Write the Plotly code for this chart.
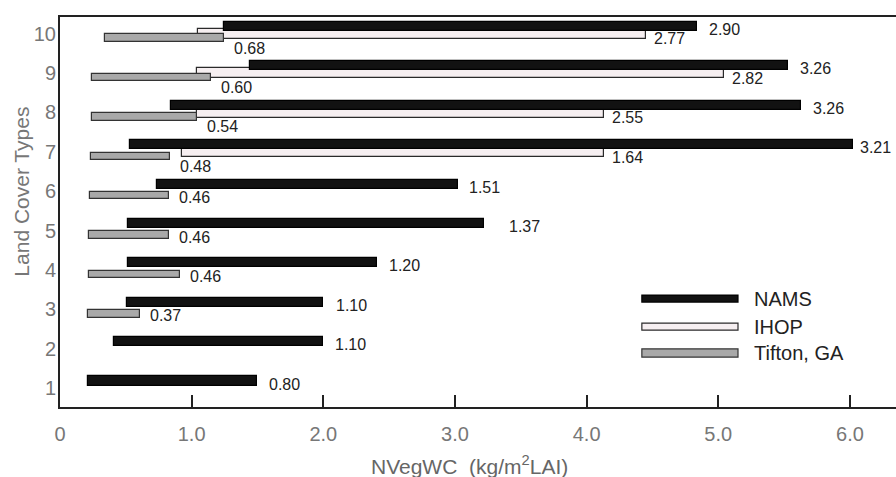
import plotly.graph_objects as go

# Land cover type index on the vertical axis
categories = [1, 2, 3, 4, 5, 6, 7, 8, 9, 10]

# NAMS: range of NVegWC per land cover type (start, end) and the printed mean
nams_start = [0.21, 0.41, 0.51, 0.52, 0.52, 0.735, 0.53, 0.84, 1.44, 1.245]
nams_end = [1.50, 2.00, 2.00, 2.41, 3.22, 3.02, 6.02, 5.63, 5.53, 4.84]
nams_label = [0.80, 1.10, 1.10, 1.20, 1.37, 1.51, 3.21, 3.26, 3.26, 2.90]

# IHOP
ihop_cats = [7, 8, 9, 10]
ihop_start = [0.93, 1.04, 1.04, 1.05]
ihop_end = [4.13, 4.13, 5.04, 4.45]
ihop_label = [1.64, 2.55, 2.82, 2.77]

# Tifton, GA
tifton_cats = [3, 4, 5, 6, 7, 8, 9, 10]
tifton_start = [0.21, 0.22, 0.22, 0.23, 0.235, 0.24, 0.24, 0.34]
tifton_end = [0.61, 0.91, 0.83, 0.83, 0.835, 1.04, 1.15, 1.245]
tifton_label = [0.37, 0.46, 0.46, 0.46, 0.48, 0.54, 0.60, 0.68]

x_tickvals = [0, 1, 2, 3, 4, 5, 6]
x_ticktext = ["0", "1.0", "2.0", "3.0", "4.0", "5.0", "6.0"]

TICK_FONT = "Liberation Sans, Arial, sans-serif"
TEXT_FONT = "Liberation Sans, Arial, sans-serif"

series = [
    # name, cats, start, end, labels, fill, edge, width, offset
    ("IHOP", ihop_cats, ihop_start, ihop_end, ihop_label, "#f6eff1", "#2a2a2a", 0.25, -0.135),
    ("Tifton, GA", tifton_cats, tifton_start, tifton_end, tifton_label, "#a9a9a9", "#333333", 0.19, -0.21),
    ("NAMS", categories, nams_start, nams_end, nams_label, "#121212", "#000000", 0.23, 0.065),
]

fig = go.Figure()
for name, cats, start, end, _, fill, edge, w, off in series:
    fig.add_trace(go.Bar(
        name=name,
        orientation="h",
        y=cats,
        base=start,
        x=[e - s for s, e in zip(start, end)],
        width=w,
        offset=off,
        marker=dict(color=fill, line=dict(color=edge, width=1.2)),
        showlegend=False,
        hoverinfo="skip",
    ))

# value labels beside the bar ends
annotations = []
nams_xshift = [10, 10, 11, 10, 23, 9, 5, 10, 10, 10]
for c, e, v, xs in zip(categories, nams_end, nams_label, nams_xshift):
    annotations.append(dict(x=e, y=c + 0.065 + 0.115, text=f"{v:.2f}", showarrow=False,
                            xanchor="left", yanchor="middle", xshift=xs, yshift=-3,
                            font=dict(family=TEXT_FONT, size=16, color="#222")))
for c, e, v in zip(ihop_cats, ihop_end, ihop_label):
    annotations.append(dict(x=e, y=c - 0.01, text=f"{v:.2f}", showarrow=False,
                            xanchor="left", yanchor="middle", xshift=6, yshift=-5,
                            font=dict(family=TEXT_FONT, size=16, color="#222")))
for c, e, v in zip(tifton_cats, tifton_end, tifton_label):
    ys = -10 if c in ihop_cats else -2
    annotations.append(dict(x=e, y=c - 0.115, text=f"{v:.2f}", showarrow=False,
                            xanchor="left", yanchor="middle", xshift=8, yshift=ys,
                            font=dict(family=TEXT_FONT, size=16, color="#222")))

# axis titles
annotations.append(dict(xref="paper", yref="paper", x=-0.046, y=0.551, text="Land Cover Types",
                        textangle=-90, showarrow=False, xanchor="center", yanchor="middle",
                        font=dict(family=TEXT_FONT, size=21, color="#777")))
annotations.append(dict(xref="paper", yref="paper", x=0.49, y=-0.149,
                        text="NVegWC  (kg/m<sup>2</sup>LAI)",
                        showarrow=False, xanchor="center", yanchor="middle",
                        font=dict(family=TEXT_FONT, size=21, color="#666")))

# legend drawn as long swatches with labels
shapes = []
legend_rows = [
    ("NAMS", "#121212", "#000000", 0.269, 0.287, 0.278),
    ("IHOP", "#f6eff1", "#2a2a2a", 0.197, 0.215, 0.206),
    ("Tifton, GA", "#a9a9a9", "#333333", 0.128, 0.149, 0.138),
]
for label, fill, edge, y0, y1, ym in legend_rows:
    shapes.append(dict(type="rect", xref="paper", yref="paper", x0=0.696, x1=0.811,
                       y0=y0, y1=y1, fillcolor=fill, line=dict(color=edge, width=1.2)))
    annotations.append(dict(xref="paper", yref="paper", x=0.828, y=ym, text=label,
                            showarrow=False, xanchor="left", yanchor="middle",
                            font=dict(family=TEXT_FONT, size=20, color="#222")))

fig.update_layout(
    width=896, height=477,
    margin=dict(l=60, r=0, t=17, b=70),
    paper_bgcolor="white", plot_bgcolor="white",
    barmode="overlay",
    bargap=0,
    annotations=annotations,
    shapes=shapes,
    showlegend=False,
)
fig.update_xaxes(
    range=[0, 6.35],
    tickvals=x_tickvals, ticktext=x_ticktext,
    ticks="inside", ticklen=12, tickwidth=2, tickcolor="#222",
    showline=True, linecolor="#222", linewidth=2, mirror=True,
    showgrid=False, zeroline=False,
    ticklabelstandoff=8,
    tickfont=dict(family=TICK_FONT, size=20, color="#777"),
)
fig.update_yaxes(
    range=[0.52, 10.42],
    tickvals=categories,
    ticks="",
    showline=True, linecolor="#222", linewidth=2,
    showgrid=False, zeroline=False,
    ticklabelstandoff=-2,
    tickfont=dict(family=TICK_FONT, size=20, color="#777"),
)

fig.write_html("out.html")
